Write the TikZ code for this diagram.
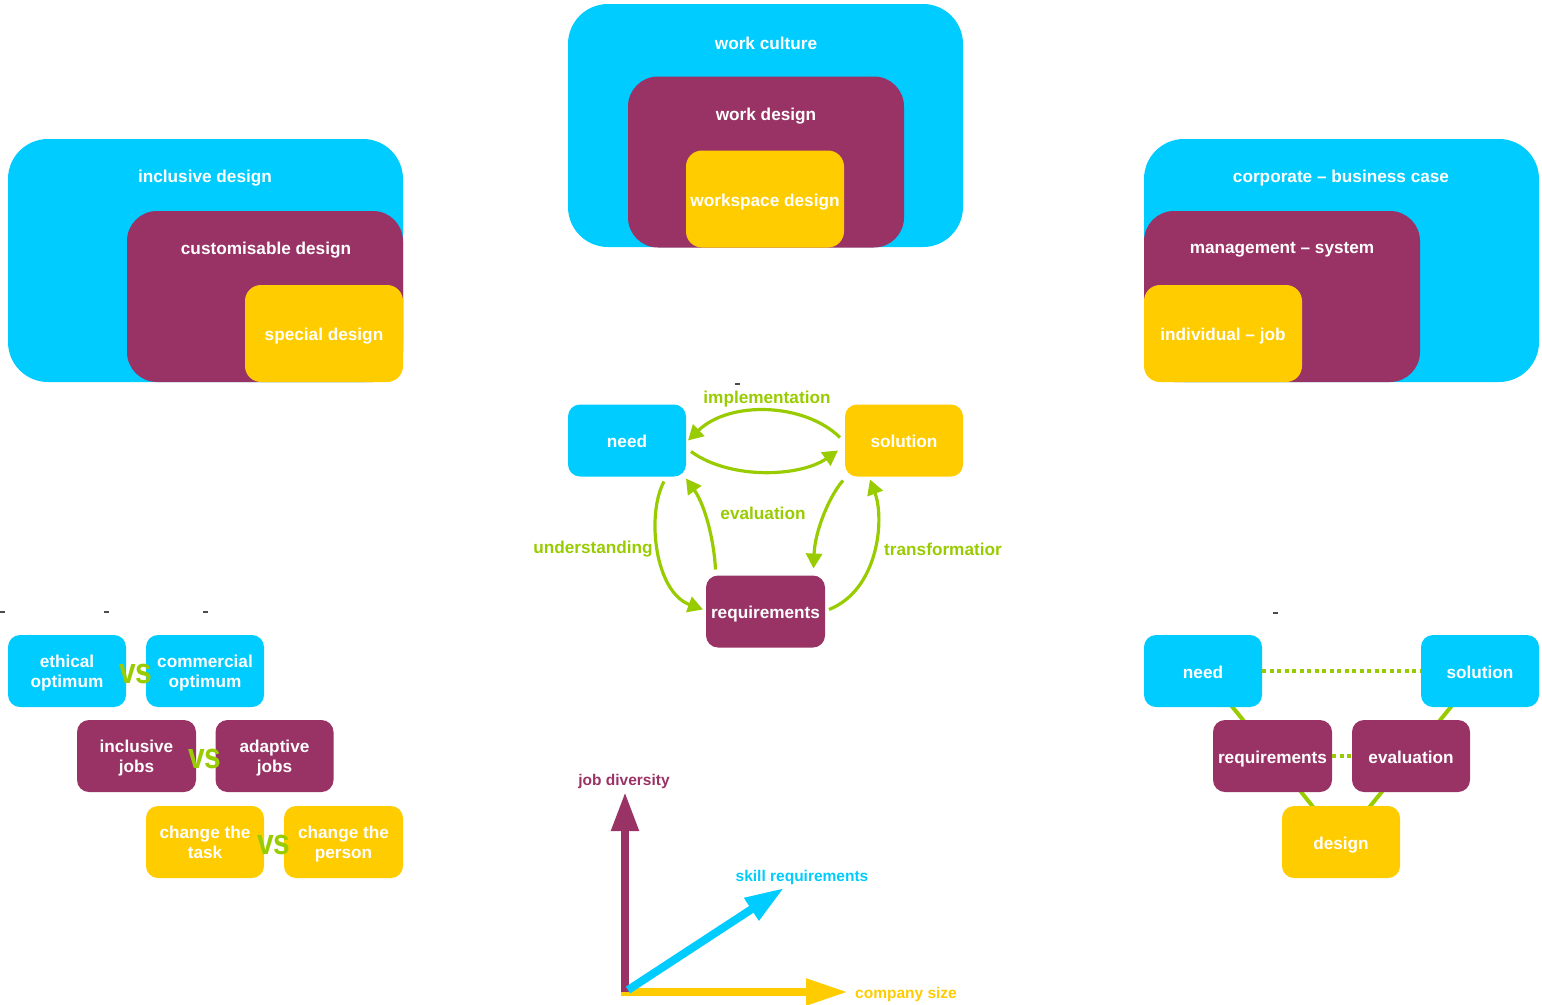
\documentclass[tikz,border=0pt]{standalone}
\usepackage{fontspec}
\usepackage{graphicx}
\setmainfont{Liberation Sans}
\usetikzlibrary{arrows.meta,calc,backgrounds}
\definecolor{cblue}{HTML}{00CCFF}
\definecolor{cpurple}{HTML}{993366}
\definecolor{cyellow}{HTML}{FFCC00}
\definecolor{cgreen}{HTML}{99CC00}
\newcommand{\twolines}[2]{\raisebox{-2pt}[\height][\depth]{\begin{tabular}{@{}c@{}}#1\\#2\end{tabular}}}
\begin{document}
\begin{tikzpicture}[x=1pt,y=-1pt,
  bigfont/.style={font=\bfseries\fontsize{17.2}{20}\selectfont},
  shape box/.style={rectangle, inner sep=0pt, outer sep=0pt, text=white, bigfont},
  one/.style={text height=14pt, text depth=0pt},
  outerbox/.style={shape box, fill=cblue, rounded corners=40pt, minimum width=395pt, minimum height=243pt},
  midbox/.style={shape box, fill=cpurple, rounded corners=30pt, minimum width=276pt, minimum height=171pt},
  innerbox/.style={shape box, one, fill=cyellow, rounded corners=16pt, minimum width=158pt, minimum height=97pt},
  lbl/.style={text=white, bigfont, inner sep=0pt, yshift=-2pt},
  small/.style={shape box, rounded corners=12pt, minimum width=118pt, minimum height=72pt},
  bsmall/.style={small, fill=cblue},
  psmall/.style={small, fill=cpurple},
  ysmall/.style={small, fill=cyellow},
  cyc/.style={draw=cgreen, line width=3.2pt, -{Triangle[length=15pt,width=16pt]}},
  cyclbl/.style={text=cgreen, bigfont, inner sep=0pt, yshift=-2pt},
  vslbl/.style={text=cgreen, font=\bfseries\fontsize{30}{30}\selectfont, inner sep=0pt},
  gline/.style={draw=cgreen, line width=4pt},
  dline/.style={draw=cgreen, line width=4pt, dash pattern=on 4pt off 3.5pt},
  tick/.style={fill=black!70, minimum width=5pt, minimum height=1.5pt, inner sep=0pt},
  axlbl/.style={font=\bfseries\fontsize{15.5}{18}\selectfont, inner sep=0pt, yshift=-2pt}
]
\useasboundingbox (0,0) rectangle (1542,1004);

% ---- top centre
\node[outerbox] (wcbox) at (765.5,125.5) {};
\node[midbox] (wdbox) at (766,162) {};
\node[innerbox] (wsbox) at (765,199) {workspace design};
\node[lbl] (wcl) at (766,41) {work culture};
\node[lbl] (wdl) at (766,114) {work design};

% ---- top left
\node[outerbox] (idbox) at (205.5,260.5) {};
\node[midbox] (cdbox) at (265,296.5) {};
\node[innerbox] (sdbox) at (324,333.5) {special design};
\node[lbl] (idl) at (205,176) {inclusive design};
\node[lbl] (cdl) at (266,248) {customisable design};

% ---- top right
\node[outerbox] (cbbox) at (1341.5,260.5) {};
\node[midbox] (msbox) at (1282,296.5) {};
\node[innerbox] (ijbox) at (1223,333.5) {individual -- job};
\node[lbl] (cbl) at (1341,176) {corporate -- business case};
\node[lbl] (msl) at (1282,248) {management -- system};

% ---- small marks
\node[tick] (t1) at (737,384) {};
\node[tick] (t2) at (2,612) {};
\node[tick] (t3) at (106,612) {};
\node[tick] (t4) at (205,612) {};
\node[tick] (t5) at (1275,613) {};

% ---- cycle
\node[bsmall, one] (need) at (627,440.5) {need};
\node[ysmall, one] (sol) at (904,440.5) {solution};
\node[psmall, one, minimum width=119pt] (req) at (765.5,611.5) {requirements};

\draw[cyc] ($(sol.west)+(-5,-3)$) .. controls (805,403) and (730,400) .. ($(need.east)+(2,0)$);
\draw[cyc] ($(need.east)+(5,11)$) .. controls (730,480) and (800,477) .. ($(sol.west)+(-7,10)$);
\draw[cyc] ($(need.south)+(37,5)$) .. controls (646,515) and (655,592) .. ($(req.west)+(-3,-2)$);
\draw[cyc] ($(req.north)+(-50,-6)$) .. controls (714,540) and (705,505) .. ($(need.south)+(59,2)$);
\draw[cyc] ($(sol.south)+(-61,4)$) .. controls (830,495) and (815,530) .. ($(req.north)+(48,-7)$);
\draw[cyc] ($(req.east)+(4,-2)$) .. controls (878,590) and (885,520) .. ($(sol.south)+(-34,3)$);

\node[cyclbl] (impl) at (767,397) {implementation};
\node[cyclbl] (eval) at (763,511) {evaluation};
\node[cyclbl] (und) at (593,547) {understanding};
\node[cyclbl] (trans) at (943,547) {transformatior};

% ---- bottom left
\node[bsmall] (eth) at (67,671) {\twolines{ethical}{optimum}};
\node[bsmall] (com) at (205,671) {\twolines{commercial}{optimum}};
\node[psmall, minimum width=119pt] (inc) at (136.5,756) {\twolines{inclusive}{jobs}};
\node[psmall] (ada) at (274.5,756) {\twolines{adaptive}{jobs}};
\node[ysmall] (cht) at (205,842) {\twolines{change the}{task}};
\node[ysmall, minimum width=119pt] (chp) at (343.5,842) {\twolines{change the}{person}};
\node[vslbl] (vs1) at (136,674) {\scalebox{1}[1.2]{vs}};
\node[vslbl] (vs2) at (205,759) {\scalebox{1}[1.2]{vs}};
\node[vslbl] (vs3) at (274,845) {\scalebox{1}[1.2]{vs}};

% ---- bottom right
\node[bsmall, one] (rn) at (1203,671) {need};
\node[bsmall, one] (rs) at (1480,671) {solution};
\node[psmall, one, minimum width=119pt] (rr) at (1272.5,756) {requirements};
\node[psmall, one] (re) at (1411,756) {evaluation};
\node[ysmall, one] (rd) at (1341,842) {design};
\begin{scope}[on background layer]
\draw[gline] (rn.center) -- (rr.center);
\draw[gline] (rs.center) -- (re.center);
\draw[gline] (rr.center) -- (rd.center);
\draw[gline] (re.center) -- (rd.center);
\end{scope}
\draw[dline] (rn) -- (rs);
\draw[dline] (rr) -- (re);

% ---- axes
\coordinate (o) at (625,992);
\coordinate (ob) at (628,990);
\coordinate (jdtip) at (625,792);
\coordinate (cstip) at (848,992);
\coordinate (sktip) at (784,888);
\draw[draw=cyellow, line width=8pt, -{Triangle[length=42pt,width=25pt]}] ($(o)+(-4,0)$) -- (cstip);
\draw[draw=cpurple, line width=8pt, -{Triangle[length=39pt,width=26pt]}] (o) -- (jdtip);
\draw[draw=cblue, line width=8pt, -{Triangle[length=39pt,width=25pt]}] (ob) -- (sktip);
\node[axlbl, text=cpurple] (jdl) at (624,779) {job diversity};
\node[axlbl, text=cblue] (skl) at (802,875) {skill requirements};
\node[axlbl, text=cyellow] (csl) at (906,992) {company size};
\end{tikzpicture}
\end{document}
